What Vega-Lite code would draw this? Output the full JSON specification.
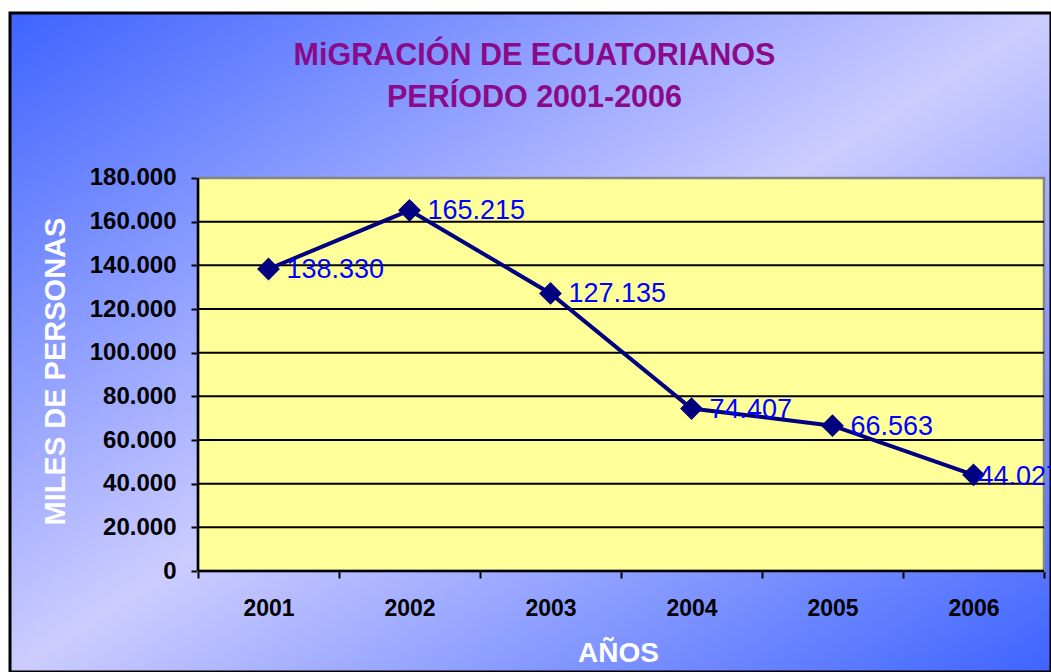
{
  "$schema": "https://vega.github.io/schema/vega-lite/v6.json",
  "width": 1041,
  "height": 659,
  "autosize": {"type": "none"},
  "padding": {"left": 10, "top": 13, "right": 0, "bottom": 0},
  "background": "white",
  "title": {
    "text": ["MiGRACIÓN DE ECUATORIANOS", "PERÍODO 2001-2006"],
    "color": "#8A0A8A",
    "font": "Liberation Sans",
    "fontSize": 30.5,
    "fontWeight": "bold",
    "anchor": "middle",
    "frame": "group",
    "baseline": "top",
    "offset": -100,
    "lineHeight": 42,
    "dx": 4
  },
  "config": {
    "locale": {"number": {"decimal": ",", "thousands": ".", "grouping": [3], "currency": ["", ""]}},
    "font": "Liberation Sans",
    "view": {
      "fill": {
        "gradient": "linear",
        "x1": 0, "y1": 0, "x2": 1, "y2": 1,
        "stops": [
          {"offset": 0, "color": "#3E64FF"},
          {"offset": 0.5, "color": "#CCCCFF"},
          {"offset": 1, "color": "#3E64FF"}
        ]
      },
      "stroke": "#000000",
      "strokeWidth": 3
    }
  },
  "data": {
    "values": [
      {"anio": 2001, "personas": 138330},
      {"anio": 2002, "personas": 165215},
      {"anio": 2003, "personas": 127135},
      {"anio": 2004, "personas": 74407},
      {"anio": 2005, "personas": 66563},
      {"anio": 2006, "personas": 44027}
    ]
  },
  "layer": [
    {
      "data": {"values": [{"zona": "área de trazado"}]},
      "mark": {"type": "rect", "fill": "#FFFF99", "stroke": "#858585", "strokeWidth": 2.5},
      "encoding": {
        "x": {"datum": 2000.5, "type": "quantitative", "title": "AÑOS", "scale": {"domain": [1999.16667, 2006.54965], "nice": false, "zero": false}},
        "x2": {"datum": 2006.5},
        "y": {"datum": 0, "type": "quantitative", "title": "MILES DE PERSONAS", "scale": {"domain": [-46259.5, 255572.5], "nice": false, "zero": false}},
        "y2": {"datum": 180000}
      }
    },
    {
      "data": {"values": [{"miles": 20000}, {"miles": 40000}, {"miles": 60000}, {"miles": 80000}, {"miles": 100000}, {"miles": 120000}, {"miles": 140000}, {"miles": 160000}]},
      "mark": {"type": "rule", "color": "#000000", "strokeWidth": 2},
      "encoding": {
        "x": {"datum": 2000.5, "type": "quantitative", "title": "AÑOS", "scale": {"domain": [1999.16667, 2006.54965], "nice": false, "zero": false}},
        "x2": {"datum": 2006.5},
        "y": {"field": "miles", "type": "quantitative", "title": "MILES DE PERSONAS", "scale": {"domain": [-46259.5, 255572.5], "nice": false, "zero": false}}
      }
    },
    {
      "data": {"values": [{"eje": "y"}]},
      "mark": {"type": "rule", "color": "#000000", "strokeWidth": 2.5},
      "encoding": {
        "x": {"datum": 2000.5, "type": "quantitative", "title": "AÑOS", "scale": {"domain": [1999.16667, 2006.54965], "nice": false, "zero": false}},
        "y": {"datum": 0, "type": "quantitative", "title": "MILES DE PERSONAS", "scale": {"domain": [-46259.5, 255572.5], "nice": false, "zero": false}},
        "y2": {"datum": 180000}
      }
    },
    {
      "data": {"values": [{"eje": "x"}]},
      "mark": {"type": "rule", "color": "#000000", "strokeWidth": 2.5},
      "encoding": {
        "x": {"datum": 2000.5, "type": "quantitative", "title": "AÑOS", "scale": {"domain": [1999.16667, 2006.54965], "nice": false, "zero": false}},
        "x2": {"datum": 2006.5},
        "y": {"datum": 0, "type": "quantitative", "title": "MILES DE PERSONAS", "scale": {"domain": [-46259.5, 255572.5], "nice": false, "zero": false}}
      }
    },
    {
      "mark": {"type": "line", "color": "#000080", "strokeWidth": 4},
      "encoding": {
        "x": {
          "field": "anio", "type": "quantitative", "title": "AÑOS",
          "scale": {"domain": [1999.16667, 2006.54965], "nice": false, "zero": false},
          "axis": {
            "values": [2000.5, 2001, 2001.5, 2002, 2002.5, 2003, 2003.5, 2004, 2004.5, 2005, 2005.5, 2006, 2006.5],
            "offset": -101,
            "domain": false,
            "grid": false,
            "tickSize": 7,
            "tickWidth": 2,
            "tickColor": "#000000",
            "tickOpacity": {"condition": {"test": "datum.value % 1 === 0", "value": 0}, "value": 1},
            "labelExpr": "datum.value % 1 === 0 ? '' + datum.value : ''",
            "labelFont": "Liberation Sans",
            "labelFontSize": 23,
            "labelFontWeight": "bold",
            "labelColor": "#000000",
            "labelPadding": 19,
            "labelOverlap": false,
            "labelFlush": false,
            "labelBound": false,
            "titleColor": "#FFFFFF",
            "titleFont": "Liberation Sans",
            "titleFontSize": 28,
            "titleFontWeight": "bold",
            "titleX": 608,
            "titleY": 82,
            "titleAlign": "center",
            "titleBaseline": "middle"
          }
        },
        "y": {
          "field": "personas", "type": "quantitative", "title": "MILES DE PERSONAS",
          "scale": {"domain": [-46259.5, 255572.5], "nice": false, "zero": false},
          "axis": {
            "values": [0, 20000, 40000, 60000, 80000, 100000, 120000, 140000, 160000, 180000],
            "format": ",d",
            "offset": -188,
            "domain": false,
            "grid": false,
            "tickSize": 7,
            "tickWidth": 2,
            "tickColor": "#000000",
            "labelFont": "Liberation Sans",
            "labelFontSize": 24,
            "labelFontWeight": "bold",
            "labelColor": "#000000",
            "labelPadding": 15,
            "labelOverlap": false,
            "labelBound": false,
            "labelFlush": false,
            "titleColor": "#FFFFFF",
            "titleFont": "Liberation Sans",
            "titleFontSize": 29,
            "titleFontWeight": "bold",
            "titleAngle": 270,
            "titleX": -143,
            "titleY": 358,
            "titleAlign": "center",
            "titleBaseline": "middle"
          }
        }
      }
    },
    {
      "mark": {"type": "point", "shape": "diamond", "filled": true, "size": 520, "color": "#000080", "opacity": 1},
      "encoding": {
        "x": {"field": "anio", "type": "quantitative", "title": "AÑOS", "scale": {"domain": [1999.16667, 2006.54965], "nice": false, "zero": false}},
        "y": {"field": "personas", "type": "quantitative", "title": "MILES DE PERSONAS", "scale": {"domain": [-46259.5, 255572.5], "nice": false, "zero": false}}
      }
    },
    {
      "transform": [{"filter": "datum.anio < 2006"}],
      "mark": {"type": "text", "align": "left", "baseline": "middle", "dx": 18, "dy": 1, "fontSize": 27, "font": "Liberation Sans", "color": "#0000FF"},
      "encoding": {
        "x": {"field": "anio", "type": "quantitative", "title": "AÑOS", "scale": {"domain": [1999.16667, 2006.54965], "nice": false, "zero": false}},
        "y": {"field": "personas", "type": "quantitative", "title": "MILES DE PERSONAS", "scale": {"domain": [-46259.5, 255572.5], "nice": false, "zero": false}},
        "text": {"field": "personas", "type": "quantitative", "format": ",d"}
      }
    },
    {
      "transform": [{"filter": "datum.anio >= 2006"}],
      "mark": {"type": "text", "align": "left", "baseline": "middle", "dx": 5, "dy": 2, "fontSize": 27, "font": "Liberation Sans", "color": "#0000FF", "clip": true},
      "encoding": {
        "x": {"field": "anio", "type": "quantitative", "title": "AÑOS", "scale": {"domain": [1999.16667, 2006.54965], "nice": false, "zero": false}},
        "y": {"field": "personas", "type": "quantitative", "title": "MILES DE PERSONAS", "scale": {"domain": [-46259.5, 255572.5], "nice": false, "zero": false}},
        "text": {"field": "personas", "type": "quantitative", "format": ",d"}
      }
    }
  ]
}
